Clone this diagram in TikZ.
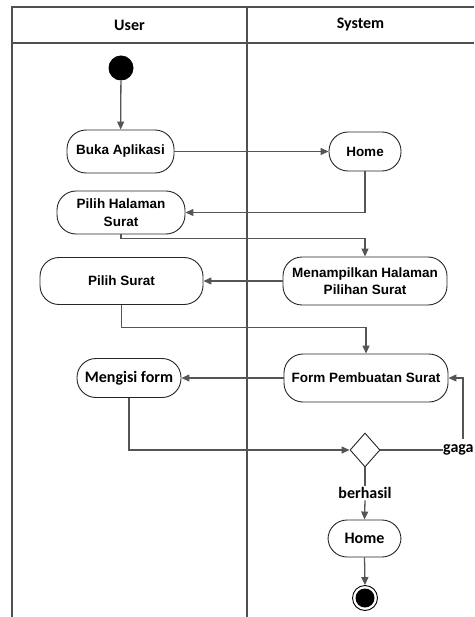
\documentclass[tikz,border=0pt]{standalone}
\usepackage{fontspec}
\usetikzlibrary{arrows.meta,shapes.geometric,calc}
\newfontfamily\arialf{Liberation Sans}
\newfontfamily\calibf{Carlito}
\definecolor{lanecol}{HTML}{505050}
\definecolor{linecol}{HTML}{555555}
\tikzset{
  lane/.style={draw=lanecol, line width=1.6pt},
  actbox/.style={draw=black!85, line width=0.9pt, rounded corners=19pt, fill=white,
    align=center, inner sep=2pt, font=\arialf\bfseries\fontsize{13.5}{17.5}\selectfont},
  actboxc/.style={actbox, font=\calibf\bfseries\fontsize{16}{19}\selectfont},
  lbl/.style={font=\calibf\bfseries\fontsize{16}{19}\selectfont, inner sep=1.5pt},
  arr/.style={draw=linecol, line width=1.3pt, -{Triangle[length=8pt,width=7pt]}},
  plain/.style={draw=linecol, line width=1.3pt},
}
\begin{document}
\begin{tikzpicture}[x=1pt,y=-1pt]
\useasboundingbox (0,0) rectangle (474,617);
% swimlane frame
\draw[lane] (12,617) -- (12,7) -- (474,7);
\draw[lane] (12,43) -- (474,43);
\draw[lane] (247,7) -- (247,617);
\node[lbl] (huser) at (129.5,25) {User};
\node[lbl] (hsys) at (360.5,25) {System};
% nodes
\node[circle, fill=black, minimum size=25pt, inner sep=0] (start) at (121,68) {};
\node[actbox, minimum width=107pt, minimum height=43pt] (buka) at (120.5,151.5) {Buka Aplikasi};
\node[actbox, minimum width=72pt, minimum height=39pt] (home1) at (365,151.5) {Home};
\node[actbox, minimum width=128pt, minimum height=43pt] (pilihhal) at (121,212.5) {Pilih Halaman\\Surat};
\node[actbox, minimum width=164pt, minimum height=48pt] (menamp) at (365,281) {Menampilkan Halaman\\Pilihan Surat};
\node[actbox, minimum width=163pt, minimum height=47pt] (pilihsurat) at (121.5,281) {Pilih Surat};
\node[actbox, minimum width=164pt, minimum height=48pt] (form) at (366,378) {Form Pembuatan Surat};
\node[actboxc, minimum width=104pt, minimum height=39pt] (mengisi) at (129,378) {Mengisi form};
\node[diamond, draw=black!85, line width=0.9pt, fill=white, minimum width=30pt, minimum height=34pt, inner sep=0] (dec) at (365,450) {};
\node[lbl, anchor=west, inner sep=0] (gaga) at (443,450) {gaga};
\coordinate (gup) at (463,439);
\node[lbl] (berhasil) at (365,493) {berhasil};
\node[actboxc, minimum width=73pt, minimum height=37pt] (home2) at (364.5,538.5) {Home};
\node[circle, draw=black, line width=0.9pt, fill=white, minimum size=25pt, inner sep=0] (end) at (365,598) {};
\node[circle, fill=black, minimum size=19pt, inner sep=0] (endin) at (end.center) {};
% connectors
\draw[arr] (start) -- (buka);
\draw[arr] (buka) -- (home1);
\draw[arr] (home1.south) |- (pilihhal.east);
\draw[arr] (pilihhal.south) -- ++(0,4) -| (menamp.north);
\draw[arr] (menamp.west) -- (pilihsurat.east);
\draw[arr] (pilihsurat.south) -- ++(0,22.5) -| (form.north);
\draw[arr] (form.west) -- (mengisi.east);
\draw[arr] (mengisi.south) |- (dec.west);
\draw[plain] (dec.east) -- (gaga.west);
\draw[arr] (gup) |- (form.east);
\draw[plain] (dec.south) -- (berhasil.north);
\draw[arr] (berhasil.south) -- (home2.north);
\draw[arr] (home2.south) -- (end.north);
\end{tikzpicture}
\end{document}
